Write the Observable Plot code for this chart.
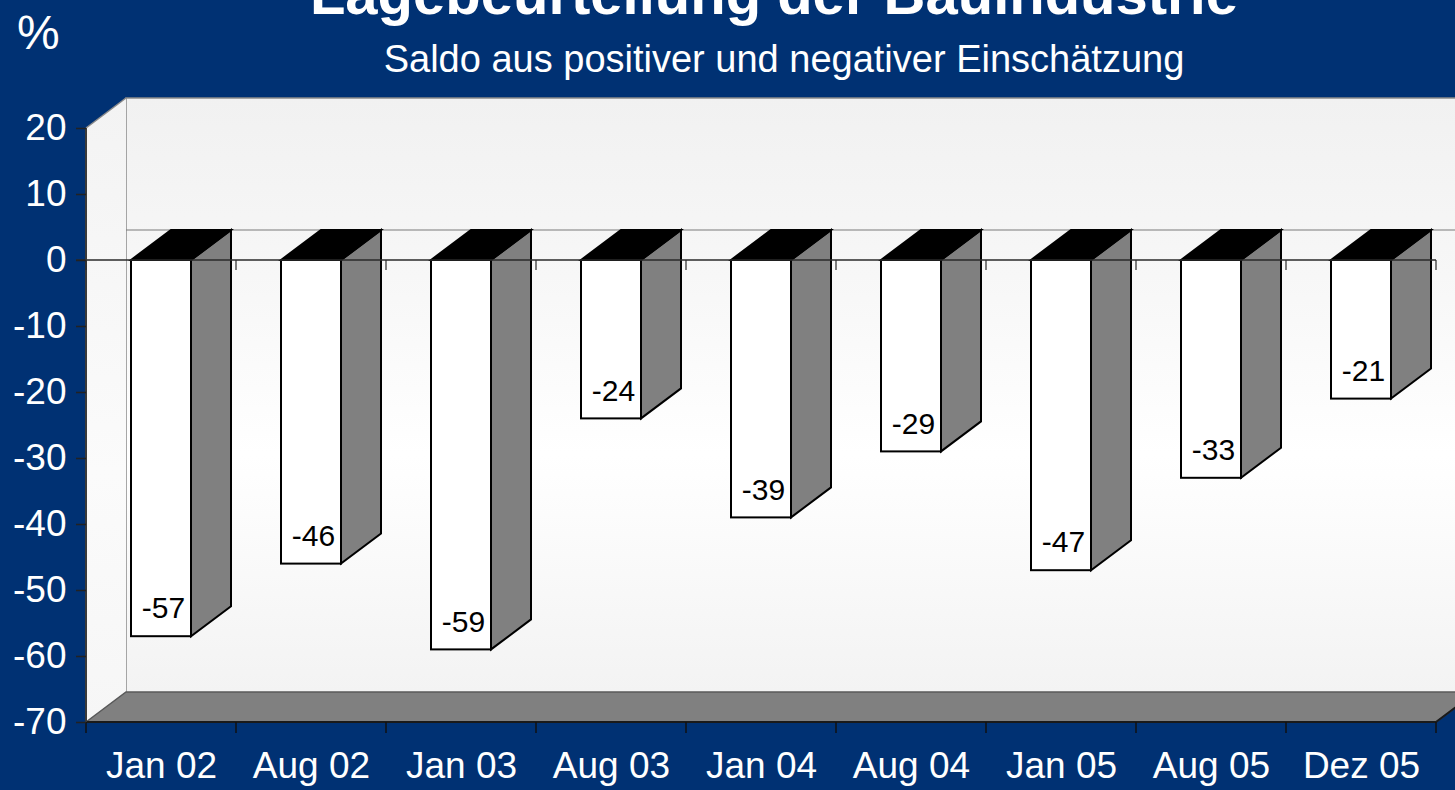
<!DOCTYPE html>
<html>
<head>
<meta charset="utf-8">
<script src="https://cdn.jsdelivr.net/npm/d3@7"></script>
<script src="https://cdn.jsdelivr.net/npm/@observablehq/plot@0.6"></script>
<style>
html,body{margin:0;padding:0;background:#003173;overflow:hidden}
#wrap{position:relative;width:1455px;height:790px;font-family:"Liberation Sans",Arial,sans-serif;color:#fff;overflow:hidden}
#chart{position:absolute;left:0;top:0}
.t{position:absolute;white-space:nowrap;line-height:1;text-align:center}
#title{left:74px;width:1400px;margin-left:-700px;margin-left:0;top:-35px;font-size:58px;font-weight:bold;transform:translateX(-700px);left:774px}
#subtitle{left:784px;width:1400px;transform:translateX(-700px);top:40px;font-size:38px}
#unit{left:17px;top:9px;font-size:48px;text-align:left}
</style>
</head>
<body>
<div id="wrap">
  <div id="chart"></div>
  <div class="t" id="title">Lagebeurteilung der Bauindustrie</div>
  <div class="t" id="subtitle">Saldo aus positiver und negativer Einschätzung</div>
  <div class="t" id="unit">%</div>
</div>
<script>
// ---- data ----
const categories = ["Jan 02", "Aug 02", "Jan 03", "Aug 03", "Jan 04", "Aug 04", "Jan 05", "Aug 05", "Dez 05"];
const values = [-57, -46, -59, -24, -39, -29, -47, -33, -21];
const yTicks = [20, 10, 0, -10, -20, -30, -40, -50, -60, -70];
const yDomain = [-70, 20];

const rows = categories.map((cat, i) => ({cat, value: values[i]}));

// 3D depth offset (style)
const DEPTH = {dx: 40, dy: -30};

function boundaries(x) {
  const [r0, r1] = x.range();
  const n = x.domain().length;
  return d3.range(n + 1).map(i => r0 + i * (r1 - r0) / n);
}

// back wall, side wall, floor, back zero line
function wallMark(index, scales) {
  const {x, y} = scales;
  const [x0, x1] = x.range();
  const yt = y(yDomain[1]), yb = y(yDomain[0]), yz = y(0);
  const {dx, dy} = DEPTH;
  const g = d3.create("svg:g");
  const defs = g.append("defs");
  const lg = defs.append("linearGradient").attr("id", "wallGrad")
    .attr("x1", 0).attr("x2", 0).attr("y1", 0).attr("y2", 1);
  [["0%", "#f1f1f1"], ["30%", "#f7f7f7"], ["60%", "#ffffff"], ["100%", "#f3f3f3"]]
    .forEach(([o, c]) => lg.append("stop").attr("offset", o).attr("stop-color", c));
  const sg = defs.append("linearGradient").attr("id", "sideGrad")
    .attr("x1", 0).attr("x2", 0).attr("y1", 0).attr("y2", 1);
  [["0%", "#f3f3f3"], ["60%", "#fbfbfb"], ["100%", "#f6f6f6"]]
    .forEach(([o, c]) => sg.append("stop").attr("offset", o).attr("stop-color", c));

  g.append("rect").attr("x", x0 + dx).attr("y", yt + dy)
    .attr("width", x1 - x0).attr("height", yb - yt).attr("fill", "url(#wallGrad)");
  g.append("path").attr("d", `M${x0 + dx},${yb + dy}V${yt + dy}H${x1 + dx}`)
    .attr("fill", "none").attr("stroke", "#8a8a8a").attr("stroke-width", 1.5);
  g.append("path").attr("d", `M${x0},${yt}L${x0 + dx},${yt + dy}V${yb + dy}L${x0},${yb}Z`)
    .attr("fill", "url(#sideGrad)").attr("stroke", "none");
  g.append("path").attr("d", `M${x0},${yt}L${x0 + dx},${yt + dy}`)
    .attr("stroke", "#8a8a8a").attr("stroke-width", 1.5);
  // floor
  g.append("path").attr("d", `M${x0},${yb}L${x0 + dx},${yb + dy}H${x1 + dx}L${x1},${yb}Z`)
    .attr("fill", "#808080").attr("stroke", "#5a5a5a").attr("stroke-width", 1.5);
  // back zero line
  g.append("path").attr("d", `M${x0 + dx},${yz + dy}H${x1 + dx}`)
    .attr("stroke", "#7a7a7a").attr("stroke-width", 1.2);
  return g.node();
}

// side and top faces of bars
function depthMark(index, scales) {
  const {x, y} = scales;
  const bw = x.bandwidth();
  const {dx, dy} = DEPTH;
  const g = d3.create("svg:g").attr("stroke", "black").attr("stroke-width", 2).attr("stroke-linejoin", "miter");
  rows.forEach(d => {
    const xa = x(d.cat), xb = xa + bw, y0 = y(0), yv = y(d.value);
    g.append("path").attr("d", `M${xb},${y0}L${xb + dx},${y0 + dy}L${xb + dx},${yv + dy}L${xb},${yv}Z`)
      .attr("fill", "#808080");
    g.append("path").attr("d", `M${xa},${y0}L${xa + dx},${y0 + dy}L${xb + dx},${y0 + dy}L${xb},${y0}Z`)
      .attr("fill", "black");
  });
  return g.node();
}

// front zero line, axis lines and category ticks
function axisLinesMark(index, scales) {
  const {x, y} = scales;
  const [x0, x1] = x.range();
  const yz = y(0), yb = y(yDomain[0]), yt = y(yDomain[1]);
  const {dx, dy} = DEPTH;
  const g = d3.create("svg:g").attr("fill", "none");
  g.append("path").attr("d", `M${x0 - 10},${yz}H${x1}`).attr("stroke", "#2a2a2a").attr("stroke-width", 1.5);
  g.append("path").attr("d", `M${x0},${yb}H${x1}L${x1 + dx},${yb + dy}`).attr("stroke", "#1a1a1a").attr("stroke-width", 2);
  g.append("path").attr("d", `M${x0},${yt}V${yb}`).attr("stroke", "#3a3a3a").attr("stroke-width", 2);
  boundaries(x).forEach(bx => {
    g.append("path").attr("d", `M${bx},${yz}V${yz + 10}`).attr("stroke", "#2a2a2a").attr("stroke-width", 1.2);
    g.append("path").attr("d", `M${bx},${yb}V${yb + 11}`).attr("stroke", "#111").attr("stroke-width", 1.5);
  });
  return g.node();
}

const chart = Plot.plot({
  width: 1455,
  height: 790,
  marginLeft: 86,
  marginRight: 19,
  marginTop: 128,
  marginBottom: 68,
  style: {background: "transparent", overflow: "visible", fontFamily: "'Liberation Sans', Arial, sans-serif"},
  x: {domain: categories, paddingInner: 0.6, paddingOuter: 0.3, label: null},
  y: {domain: yDomain, label: null},
  marks: [
    wallMark,
    depthMark,
    Plot.barY(rows, {x: "cat", y1: 0, y2: "value", fill: "white", stroke: "black", strokeWidth: 2}),
    Plot.text(rows, {x: "cat", y: "value", text: d => String(d.value), fontSize: 30, fill: "black", dy: -28, dx: 2, lineAnchor: "middle"}),
    axisLinesMark,
    Plot.axisY({ticks: yTicks, tickSize: 10, tickPadding: 10, fontSize: 37, fill: "white", stroke: "#222", strokeWidth: 1.5, tickFormat: d => String(d), label: null}),
    Plot.axisX({tickSize: 0, tickPadding: 29, fontSize: 37, fill: "white", label: null})
  ]
});
document.getElementById("chart").appendChild(chart);
</script>
</body>
</html>
